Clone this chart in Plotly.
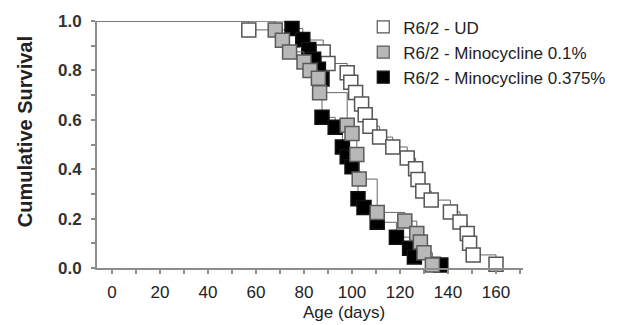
import plotly.graph_objects as go

# ---- data ----
ud_days = [57, 75, 88, 90, 98, 99.5, 101.5, 104, 105.5, 107.5, 111.5, 117, 123, 126.5,
           127.5, 129.5, 133, 141, 145, 148, 149, 150.5, 160]
ud_surv = [0.964, 0.923, 0.874, 0.828, 0.790, 0.752, 0.711, 0.664, 0.620, 0.574, 0.530,
           0.490, 0.445, 0.402, 0.358, 0.312, 0.275, 0.227, 0.186, 0.140, 0.100, 0.053, 0.015]

mino01_days = [68, 71, 74, 80, 82.5, 86, 86.5, 98, 100, 102, 103, 110.5, 122, 127, 128.5,
               130, 133.5]
mino01_surv = [0.964, 0.922, 0.875, 0.834, 0.800, 0.768, 0.710, 0.578, 0.545, 0.460, 0.360,
               0.225, 0.190, 0.140, 0.105, 0.062, 0.012]

mino0375_days = [75, 79.5, 82, 84, 86, 87.5, 87.5, 93, 96, 98, 100, 102.5, 105, 110.5,
                 118.5, 124, 126, 137]
mino0375_surv = [0.970, 0.925, 0.885, 0.845, 0.805, 0.765, 0.610, 0.570, 0.490, 0.450,
                 0.410, 0.280, 0.245, 0.185, 0.125, 0.080, 0.045, 0.012]

series_names = ["R6/2 - UD", "R6/2 - Minocycline 0.1%", "R6/2 - Minocycline 0.375%"]
x_ticks = [0, 20, 40, 60, 80, 100, 120, 140, 160]
y_ticks = [0.0, 0.2, 0.4, 0.6, 0.8, 1.0]

X_RANGE = [-6.25, 171.25]
Y_RANGE = [0, 1]

FONT = "Liberation Sans, Arial, sans-serif"
LINE_COL = "#666666"
AXIS_COL = "#8c8c8c"

styles = {
    series_names[0]: dict(fill="#ffffff", edge="#555555"),
    series_names[1]: dict(fill="#b8b8b8", edge="#5a5a5a"),
    series_names[2]: dict(fill="#000000", edge="#111111"),
}

data = {
    series_names[0]: (ud_days, ud_surv),
    series_names[1]: (mino01_days, mino01_surv),
    series_names[2]: (mino0375_days, mino0375_surv),
}

fig = go.Figure()

# draw order: UD at bottom, 0.375% middle, 0.1% on top
for name in [series_names[0], series_names[2], series_names[1]]:
    days, surv = data[name]
    st = styles[name]
    xs = [X_RANGE[0]] + list(days)
    ys = [1.0] + list(surv)
    fig.add_trace(go.Scatter(
        x=xs, y=ys, mode="lines", line=dict(shape="hv", color=LINE_COL, width=1),
        showlegend=False, hoverinfo="skip", cliponaxis=False))
    fig.add_trace(go.Scatter(
        x=days, y=surv, mode="markers", name=name, showlegend=False,
        marker=dict(symbol="square", size=14, color=st["fill"],
                    line=dict(color=st["edge"], width=1.5)),
        cliponaxis=False))

# legend entries (markers only)
for name in series_names:
    st = styles[name]
    fig.add_trace(go.Scatter(
        x=[None], y=[None], mode="markers", name=name,
        marker=dict(symbol="square", size=12, color=st["fill"],
                    line=dict(color=st["edge"], width=1.2))))

# the page body has an 8px margin, so the figure is 8px smaller than the window
fig.update_layout(
    width=619, height=317,
    margin=dict(l=89, r=104, t=13, b=57, autoexpand=False),
    paper_bgcolor="white", plot_bgcolor="white",
    font=dict(family=FONT, color="#222222", size=16),
    showlegend=True,
    legend=dict(x=0.625, y=1.047, xanchor="left", yanchor="top",
                bgcolor="rgba(0,0,0,0)", font=dict(size=17, color="#222222"),
                tracegroupgap=0, itemwidth=30),
    xaxis=dict(range=X_RANGE, tickvals=x_ticks, ticks="outside", ticklen=4,
               tickcolor=AXIS_COL, tickwidth=1.5, showline=True, linecolor=AXIS_COL,
               linewidth=2, showgrid=False, zeroline=False, ticklabelstandoff=4,
               tickfont=dict(size=17, color="#222222"),
               minor=dict(dtick=10, tick0=0, ticks="outside", ticklen=4,
                          tickcolor=AXIS_COL, tickwidth=1.5, showgrid=False)),
    yaxis=dict(range=Y_RANGE, tickvals=y_ticks, tickformat=".1f", ticks="outside",
               ticklen=4, tickcolor=AXIS_COL, tickwidth=1.5, showline=True,
               linecolor=AXIS_COL, linewidth=2, showgrid=False, zeroline=False,
               ticklabelstandoff=6,
               tickfont=dict(size=17, color="#333333", weight="bold"),
               minor=dict(dtick=0.1, tick0=0, ticks="outside", ticklen=4,
                          tickcolor=AXIS_COL, tickwidth=1.5, showgrid=False)),
    annotations=[
        dict(text="<b>Cumulative Survival</b>", xref="paper", yref="paper",
             x=-0.169, y=0.55, xanchor="center", yanchor="middle", textangle=-90,
             showarrow=False, font=dict(size=20, color="#222222", family=FONT)),
        dict(text="Age (days)", xref="paper", yref="paper",
             x=0.58, y=-0.182, xanchor="center", yanchor="middle",
             showarrow=False, font=dict(size=17, color="#222222", family=FONT)),
    ],
)

fig.write_html("out.html")
